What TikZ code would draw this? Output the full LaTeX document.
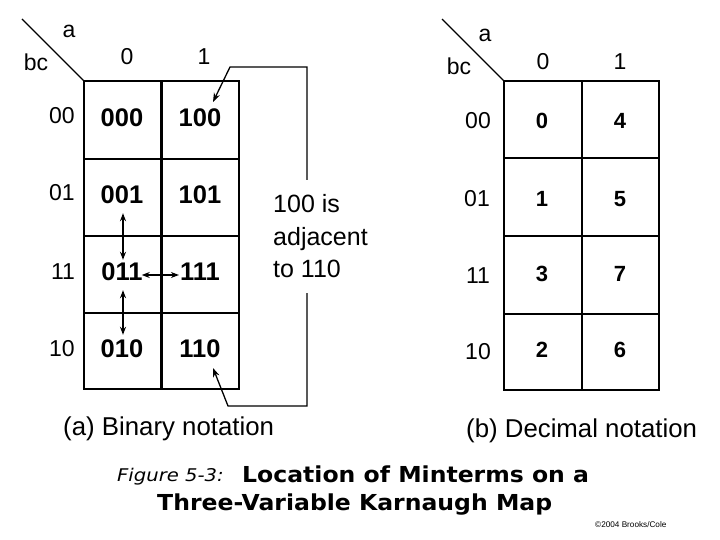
\documentclass[tikz,border=0pt]{standalone}
\usepackage{fontspec}
\setmainfont{Liberation Sans}
\newfontfamily\titlefont[FakeStretch=1.07]{DejaVu Sans}
\newfontfamily\figfont[FakeStretch=1.12]{DejaVu Sans Oblique}
\usetikzlibrary{arrows.meta}
\tikzset{
  gridline/.style={line width=2.4pt},
  thinline/.style={line width=1.8pt},
  diag/.style={line width=1.2pt},
  lbl/.style={inner sep=0pt, anchor=base, font=\fontsize{23}{23}\selectfont},
  cellbig/.style={inner sep=0pt, anchor=base, text height=18pt, text depth=0pt, font=\fontsize{25.5}{25.5}\selectfont\bfseries},
  cellsmall/.style={inner sep=0pt, anchor=base, font=\fontsize{22}{22}\selectfont\bfseries},
  caption/.style={inner sep=0pt, anchor=base west, font=\fontsize{25.8}{25.8}\selectfont},
  conn/.style={line width=1.3pt, -{Stealth[length=9pt,width=6.5pt]}},
  dbl/.style={line width=1.2pt, {Stealth[length=8pt,width=6pt]}-{Stealth[length=8pt,width=6pt]}},
}
\begin{document}
\begin{tikzpicture}[x=1pt,y=-1pt]
\useasboundingbox (0,0) rectangle (720,540);
\fill[white] (0,0) rectangle (720,540);

% ---------- left map (binary) ----------
\draw[diag] (22,19) -- (84,81);
\node[lbl] (la) at (69,38) {a};
\node[lbl] (lbc) at (36,71) {bc};
\node[lbl] (lc0) at (127,65) {0};
\node[lbl] (lc1) at (204,65) {1};
\node[lbl] (lr00) at (62,124) {00};
\node[lbl] (lr01) at (62,201) {01};
\node[lbl] (lr11) at (63,279) {11};
\node[lbl] (lr10) at (62,356) {10};
\draw[gridline] (84,81) rectangle (239,389);
\draw[gridline] (161.5,81) -- (161.5,389);
\draw[gridline] (84,159) -- (239,159);
\draw[gridline] (84,236) -- (239,236);
\draw[gridline] (84,313) -- (239,313);

\node[cellbig] (t000) at (122,127) {000};
\node[cellbig] (t100) at (200,127) {100};
\node[cellbig] (t001) at (122,204) {001};
\node[cellbig] (t101) at (200,204) {101};
\node[cellbig] (t011) at (122,280) {011};
\node[cellbig] (t111) at (200,280) {111};
\node[cellbig] (t010) at (122,357) {010};
\node[cellbig] (t110) at (200,357) {110};

\draw[dbl, shorten <=9pt, shorten >=2pt] ([xshift=1pt]t001.south) -- ([xshift=1pt]t011.north);
\draw[dbl, shorten <=10pt, shorten >=4pt] ([xshift=1pt]t011.south) -- ([xshift=1pt]t010.north);
\draw[dbl, shorten <=-1pt, shorten >=1pt] ([yshift=-4pt]t011.east) -- ([yshift=-4pt]t111.west);

% note and bracket connector
\node[inner sep=0pt, anchor=base west, font=\fontsize{25}{32.5}\selectfont] (note) at (273,213)
  {\begin{tabular}[t]{@{}l@{}}100 is\\adjacent\\to 110\end{tabular}};
\coordinate (brTop) at (307,180);
\coordinate (brBot) at (307,293);
\coordinate (bendA) at (230,67);
\coordinate (bendB) at (228,406);
\coordinate (tipA) at (213,102);
\coordinate (tipB) at (213,368);
\draw[conn] (brTop) |- (bendA) -- (tipA);
\draw[conn] (brBot) |- (bendB) -- (tipB);

\node[caption] (capa) at (63,435) {(a) Binary notation};

% ---------- right map (decimal) ----------
\draw[diag] (442,19) -- (504,81);
\node[lbl] (ra) at (485,42) {a};
\node[lbl] (rbc) at (459,75) {bc};
\node[lbl] (rc0) at (543,70) {0};
\node[lbl] (rc1) at (620,70) {1};
\node[lbl] (rr00) at (478,129) {00};
\node[lbl] (rr01) at (477,207) {01};
\node[lbl] (rr11) at (478,283) {11};
\node[lbl] (rr10) at (478,359) {10};
\draw[gridline] (504,81) rectangle (659,390);
\draw[thinline] (582,81) -- (582,390);
\draw[gridline] (504,158) -- (659,158);
\draw[gridline] (504,236) -- (659,236);
\draw[gridline] (504,314) -- (659,314);

\node[cellsmall] (d0) at (542,129) {0};
\node[cellsmall] (d4) at (620,129) {4};
\node[cellsmall] (d1) at (542,207) {1};
\node[cellsmall] (d5) at (620,207) {5};
\node[cellsmall] (d3) at (542,281) {3};
\node[cellsmall] (d7) at (620,281) {7};
\node[cellsmall] (d2) at (542,357) {2};
\node[cellsmall] (d6) at (620,357) {6};

\node[caption] (capb) at (466,437) {(b) Decimal notation};

% ---------- title ----------
\node[inner sep=0pt, anchor=base west, font=\figfont\fontsize{17.5}{17.5}\selectfont] (fig) at (117,481) {Figure 5-3:};
\node[inner sep=0pt, anchor=base west, font=\titlefont\fontsize{22}{22}\selectfont\bfseries] (title1) at (242,482) {Location of Minterms on a};
\node[inner sep=0pt, anchor=base west, font=\titlefont\fontsize{22}{22}\selectfont\bfseries] (title2) at (157,510) {Three-Variable Karnaugh Map};
\node[inner sep=0pt, anchor=base west, font=\fontsize{8.2}{8.2}\selectfont] (copy) at (595,527) {©2004 Brooks/Cole};
\end{tikzpicture}
\end{document}
